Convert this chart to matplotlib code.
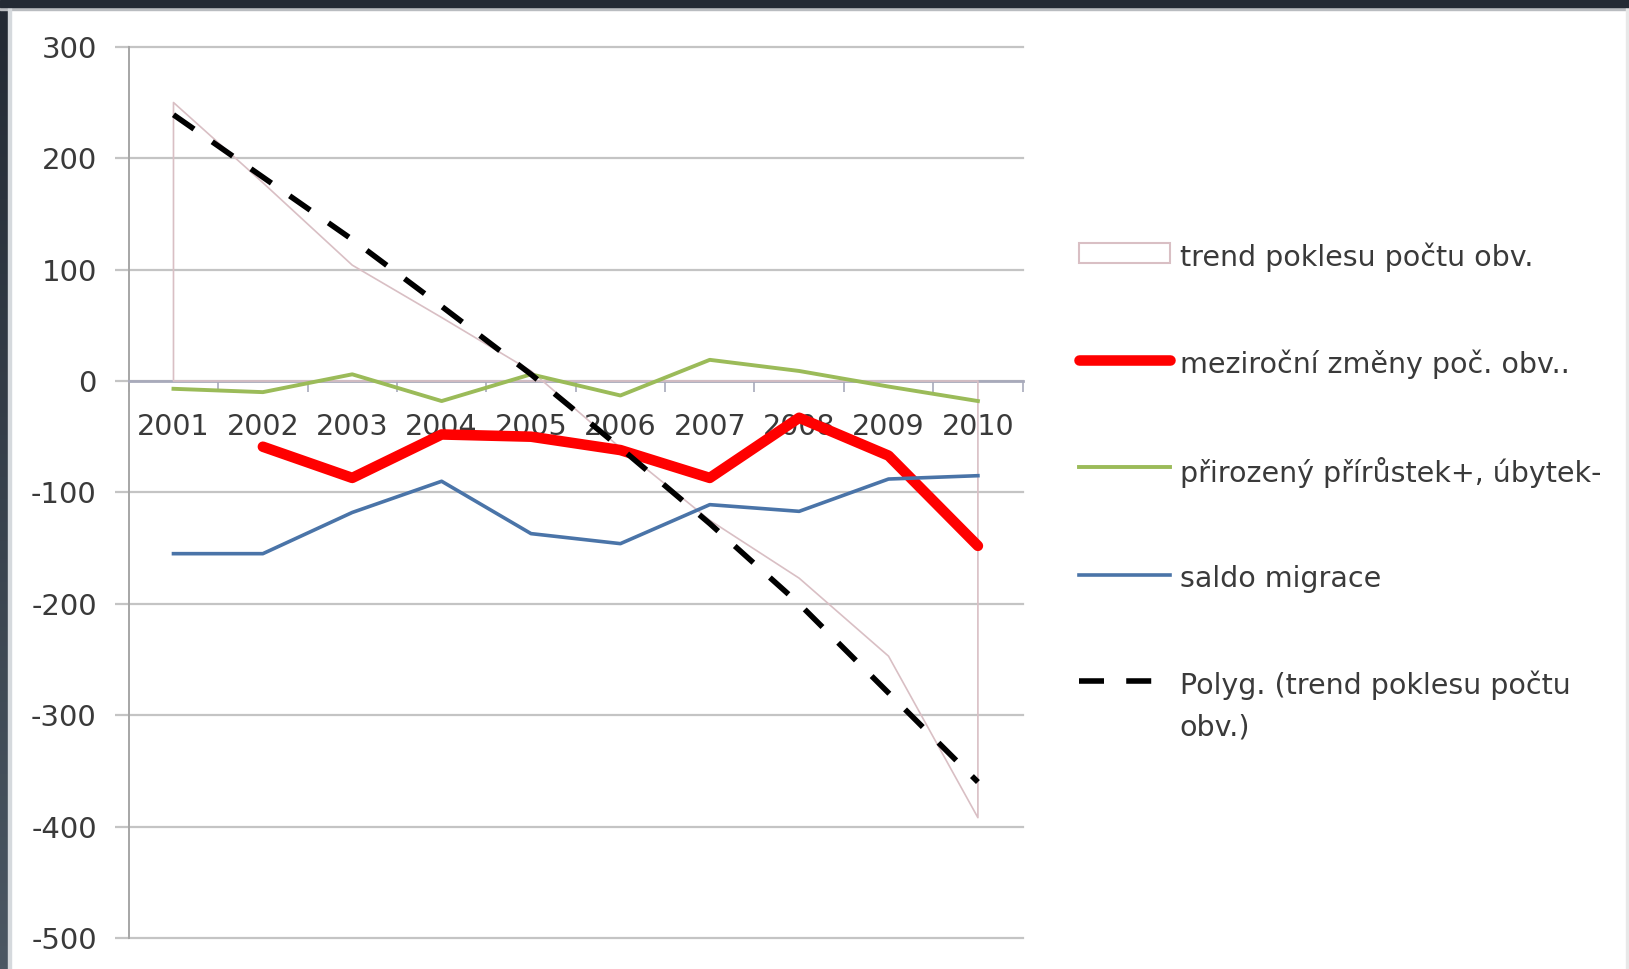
import numpy as np
import matplotlib
matplotlib.use("Agg")
import matplotlib.pyplot as plt
from matplotlib.patches import Rectangle, Patch
from matplotlib.lines import Line2D
from matplotlib.colors import LinearSegmentedColormap

# ---- data ----
years = ['2001', '2002', '2003', '2004', '2005', '2006', '2007', '2008', '2009', '2010']
trend_poklesu = [250, 178, 104, 57, 9, -60, -125, -177, -247, -392]
mezirocni = [np.nan, -59, -87, -48, -50, -62, -87, -33, -67, -148]
prirozeny = [-7, -10, 6, -18, 6, -13, 19, 9, -5, -18]
saldo_migrace = [-155, -155, -118, -90, -137, -146, -111, -117, -88, -85]
polyg_trend = [239, 183, 127, 67, 6, -60, -128, -200, -280, -360]
y_ticks = [300, 200, 100, 0, -100, -200, -300, -400, -500]
y_tick_labels = ['300', '200', '100', '0', '-100', '-200', '-300', '-400', '-500']
labels = ['trend poklesu počtu obv.',
          'meziroční změny poč. obv..',
          'přirozený přírůstek+, úbytek-',
          'saldo migrace',
          'Polyg. (trend poklesu počtu\nobv.)']

plt.rcParams['font.family'] = ['DejaVu Sans']

W, H = 1629, 969
fig = plt.figure(figsize=(W / 100, H / 100), dpi=100)
fig.patch.set_facecolor('white')

ax = fig.add_axes([128.8 / W, 31 / H, 893.8 / W, 891.2 / H])
x = np.arange(len(years))

pink = '#d9bfc4'
red = '#ff0000'
green = '#9bbb59'
blue = '#4a74a8'
grid_c = '#c4c4c4'
txt_c = '#3a3a3a'

ax.fill_between(x, trend_poklesu, 0, facecolor='none', edgecolor=pink, lw=1.2, zorder=1.8)
ax.plot(x, mezirocni, color=red, lw=7.6, solid_capstyle='round', solid_joinstyle='round', zorder=3)
ax.plot(x, prirozeny, color=green, lw=2.8, zorder=3.1)
ax.plot(x, saldo_migrace, color=blue, lw=2.6, zorder=3.2)
ax.plot(x, polyg_trend, color='black', lw=4, linestyle=(0, (4.5, 4)), zorder=3.3)

ax.set_xlim(-0.5, len(years) - 0.5)
ax.set_ylim(-500, 300)

ax.set_yticks(y_ticks)
ax.set_yticklabels(y_tick_labels)
ax.yaxis.grid(True, color=grid_c, lw=1.6)
ax.set_axisbelow('line')
for gl in ax.get_ygridlines():
    gl.set_clip_on(False)

ax.set_xticks(x)
ax.set_xticklabels(years)
ax.set_xticks(np.arange(-0.5, len(years), 1.0), minor=True)
ax.tick_params(axis='x', which='major', length=0, pad=23, labelsize=20.5, labelcolor=txt_c)
ax.tick_params(axis='x', which='minor', length=8, width=1.2, color='#a8aabb', direction='out')
ax.tick_params(axis='y', which='major', length=10, width=1.6, color=grid_c, pad=13,
               labelsize=21, labelcolor=txt_c, direction='out')

for s in ['top', 'right']:
    ax.spines[s].set_visible(False)
ax.spines['bottom'].set_position(('data', 0))
ax.spines['bottom'].set_color('#a8aabb')
ax.spines['bottom'].set_linewidth(2)
ax.spines['bottom'].set_zorder(1.6)
ax.spines['left'].set_color('#a6a6a6')
ax.spines['left'].set_linewidth(1.4)
ax.spines['left'].set_zorder(1.6)

# ---- legend ----
handles = [Patch(facecolor='white', edgecolor=pink, lw=1.5),
           Line2D([], [], color=red, lw=7.6, solid_capstyle='round'),
           Line2D([], [], color=green, lw=2.8),
           Line2D([], [], color=blue, lw=2.6),
           Line2D([], [], color='black', lw=4, linestyle=(0, (4.5, 4)))]
leg = fig.legend(handles, labels, loc='upper left',
                 bbox_to_anchor=(1079 / W, 1 - 243 / H), borderaxespad=0,
                 frameon=False, fontsize=20.5, handlelength=3.19, handletextpad=0.35,
                 labelspacing=2.72, borderpad=0)
for t in leg.get_texts():
    t.set_color(txt_c)
    t.set_linespacing(1.62)
try:
    for col in leg._legend_handle_box.get_children():
        for item in col.get_children():
            item.align = 'top'
except Exception:
    pass

# ---- dark frame around the slide ----
fig.add_artist(Rectangle((0, 1 - 7 / H), 1, 7 / H, transform=fig.transFigure,
                         color='#232a34', zorder=10))
fig.add_artist(Rectangle((0, 1 - 10 / H), 1, 3 / H, transform=fig.transFigure,
                         color='#b9bcc0', zorder=9))
gax = fig.add_axes([0, 0, 8 / W, 1 - 7 / H])
cmap = LinearSegmentedColormap.from_list('edge', ['#232a34', '#4b5763'])
gax.imshow(np.linspace(0, 1, 256).reshape(-1, 1), aspect='auto', cmap=cmap)
gax.set_axis_off()
fig.add_artist(Rectangle((8 / W, 0), 3 / W, 1 - 7 / H, transform=fig.transFigure,
                         color='#d5d9dd', zorder=9))
fig.add_artist(Rectangle((1 - 3 / W, 0), 3 / W, 1, transform=fig.transFigure,
                         color='#e8e8e8', zorder=9))

fig.savefig('out.png', dpi=100, facecolor='white')
